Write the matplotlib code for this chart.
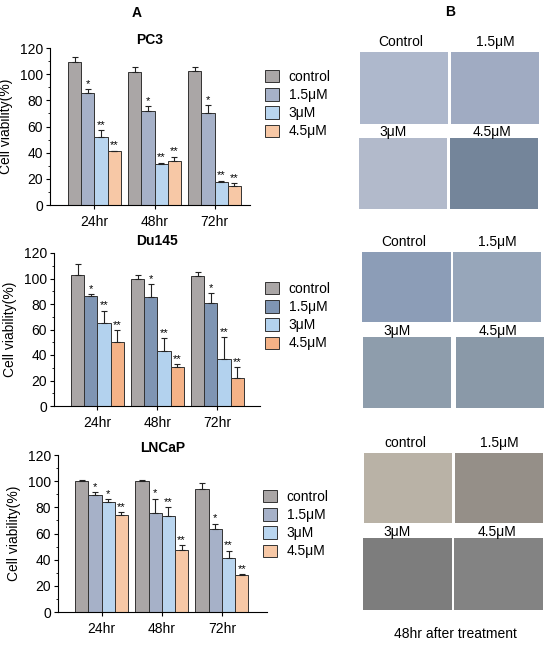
import numpy as np
import matplotlib
matplotlib.use("Agg")
import matplotlib.pyplot as plt
import matplotlib.patches as patches

plt.rcParams['font.family'] = ['Liberation Sans', 'DejaVu Sans']

times = ["24hr", "48hr", "72hr"]
doses = ["control", "1.5\u03bcM", "3\u03bcM", "4.5\u03bcM"]

# viability (%) per dose, one value per time point
pc3_mean = [[109, 101.4, 102.1], [85.3, 71.7, 70.2], [51.8, 31.7, 17.9], [41.1, 33.4, 14.8]]
pc3_err = [[4, 4, 3.6], [3.3, 3.6, 6.1], [5.2, 0.7, 0.5], [0.4, 3.6, 2.0]]
du145_mean = [[102.9, 99.5, 102.2], [85.9, 85.3, 81.1], [65.4, 42.8, 37.0], [50.2, 30.7, 22.0]]
du145_err = [[8.4, 2.9, 2.6], [1.8, 10.3, 7.4], [9.4, 10.2, 16.8], [9.1, 2.1, 8.2]]
lncap_mean = [[100.2, 99.9, 93.8], [89.5, 76.0, 63.8], [83.9, 73.0, 41.2], [74.5, 47.5, 28.2]]
lncap_err = [[0.5, 1.0, 4.6], [2.0, 10.4, 3.6], [2.3, 7.1, 5.6], [1.8, 3.4, 0.8]]

pc3_stars = [["", "", ""], ["*", "*", "*"], ["**", "**", "**"], ["**", "**", "**"]]
du145_stars = [["", "", ""], ["*", "*", "*"], ["**", "**", "**"], ["**", "**", "**"]]
lncap_stars = [["", "", ""], ["*", "*", "*"], ["*", "**", "**"], ["**", "**", "**"]]

pc3_colors = ["#aaa6a6", "#a6b1c8", "#b9d5ef", "#f7c8a6"]
du145_colors = ["#aaa6a6", "#7f95b3", "#b3d2ee", "#f4b287"]
lncap_colors = ["#aaa6a6", "#a6b1c8", "#b9d5ef", "#f7c8a6"]

W, H = 550, 647
fig = plt.figure(figsize=(5.5, 6.47), dpi=100)


def fig_rect(x0, y_top, x1, y_bot):
    # pixel box -> figure fraction [left, bottom, width, height]
    return [x0 / W, 1 - y_bot / H, (x1 - x0) / W, (y_bot - y_top) / H]


def bar_panel(rect, title, title_pad, means, errs, stars, colors, xlim, leg_xy):
    ax = fig.add_axes(rect)
    x = np.arange(len(times))
    bw = 0.22
    for i in range(len(doses)):
        pos = x + (i - 1.5) * bw
        ax.bar(pos, means[i], bw, color=colors[i], edgecolor="#333333", linewidth=0.7,
               label=doses[i], zorder=2)
        ax.errorbar(pos, means[i], yerr=[np.zeros(3), errs[i]], fmt="none", ecolor="#222222",
                    elinewidth=0.8, capsize=2, capthick=0.8, zorder=3)
        for j in range(len(times)):
            if stars[i][j]:
                ax.annotate(stars[i][j], (pos[j], means[i][j] + errs[i][j]), xytext=(0, 0.3),
                            textcoords="offset points", ha="center", va="bottom", fontsize=8)
    ax.set_xlim(*xlim)
    ax.set_ylim(0, 120)
    ax.set_yticks(range(0, 121, 20))
    ax.set_yticks(range(0, 121, 10), minor=True)
    ax.set_xticks(x)
    ax.set_xticklabels(times, fontsize=10)
    ax.tick_params(axis="y", labelsize=10, length=3, width=0.8, pad=2)
    ax.tick_params(axis="y", which="minor", length=1.5, width=0.6)
    ax.tick_params(axis="x", length=3, width=0.8, pad=4)
    for s in ["top", "right"]:
        ax.spines[s].set_visible(False)
    for s in ["left", "bottom"]:
        ax.spines[s].set_linewidth(0.8)
    ax.set_ylabel("Cell viability(%)", fontsize=10, labelpad=5)
    ax.set_title(title, fontsize=10, fontweight="bold", pad=title_pad)
    handles, labels = ax.get_legend_handles_labels()
    fig.legend(handles, labels, loc="upper left", bbox_to_anchor=leg_xy, frameon=False,
               fontsize=10, handlelength=1.0, handleheight=1.0, handletextpad=0.7,
               labelspacing=0.3, borderpad=0, borderaxespad=0)
    return ax


bar_panel(fig_rect(50, 48, 250, 205), "PC3", 3, pc3_mean, pc3_err, pc3_stars, pc3_colors,
          (-0.74, 2.59), (265 / W, 1 - 70 / H))
bar_panel(fig_rect(54, 253, 260, 406), "Du145", 6, du145_mean, du145_err, du145_stars, du145_colors,
          (-0.725, 2.71), (265 / W, 1 - 282 / H))
bar_panel(fig_rect(58, 455, 267, 612), "LNCaP", 1, lncap_mean, lncap_err, lncap_stars, lncap_colors,
          (-0.725, 2.75), (263 / W, 1 - 490 / H))

fig.text(137 / W, 1 - 13 / H, "A", fontsize=10, fontweight="bold", ha="center", va="center")
fig.text(450 / W, 1 - 12 / H, "B", fontsize=10, fontweight="bold", ha="center", va="center")

# panel B: micrograph tiles, drawn as flat tone boxes
tile_labels = [["Control", "1.5\u03bcM", "3\u03bcM", "4.5\u03bcM"],
               ["Control", "1.5\u03bcM", "3\u03bcM", "4.5\u03bcM"],
               ["control", "1.5\u03bcM", "3\u03bcM", "4.5\u03bcM"]]
tile_colors = [["#aeb8cc", "#a0abc2", "#b2bacb", "#74859a"],
               ["#8c9db7", "#97a6ba", "#8e9dac", "#8a99a8"],
               ["#b9b2a6", "#958f88", "#7d7d7d", "#838383"]]
# (x0, y0, x1, y1) in pixels for each tile
tile_boxes = [[(360, 52, 448, 124), (451, 52, 539, 124), (359, 138, 447, 209), (450, 138, 538, 209)],
              [(362, 252, 451, 322), (453, 252, 541, 322), (363, 337, 451, 408), (456, 337, 544, 408)],
              [(364, 453, 452, 523), (455, 453, 543, 523), (363, 538, 452, 610), (454, 538, 543, 610)]]
label_gap = [10, 10, 6, 6]
label_shift = [-3, 0, -10, -2]

for r in range(3):
    for k in range(4):
        x0, y0, x1, y1 = tile_boxes[r][k]
        fig.add_artist(patches.Rectangle((x0 / W, 1 - y1 / H), (x1 - x0) / W, (y1 - y0) / H,
                                         transform=fig.transFigure, facecolor=tile_colors[r][k],
                                         edgecolor="none"))
        fig.text(((x0 + x1) / 2 + label_shift[k]) / W, 1 - (y0 - label_gap[k]) / H,
                 tile_labels[r][k], fontsize=10, ha="center", va="center")

fig.text(455 / W, 1 - 634 / H, "48hr after treatment", fontsize=10, ha="center", va="center")

fig.savefig("out.png", dpi=100, facecolor="white")
